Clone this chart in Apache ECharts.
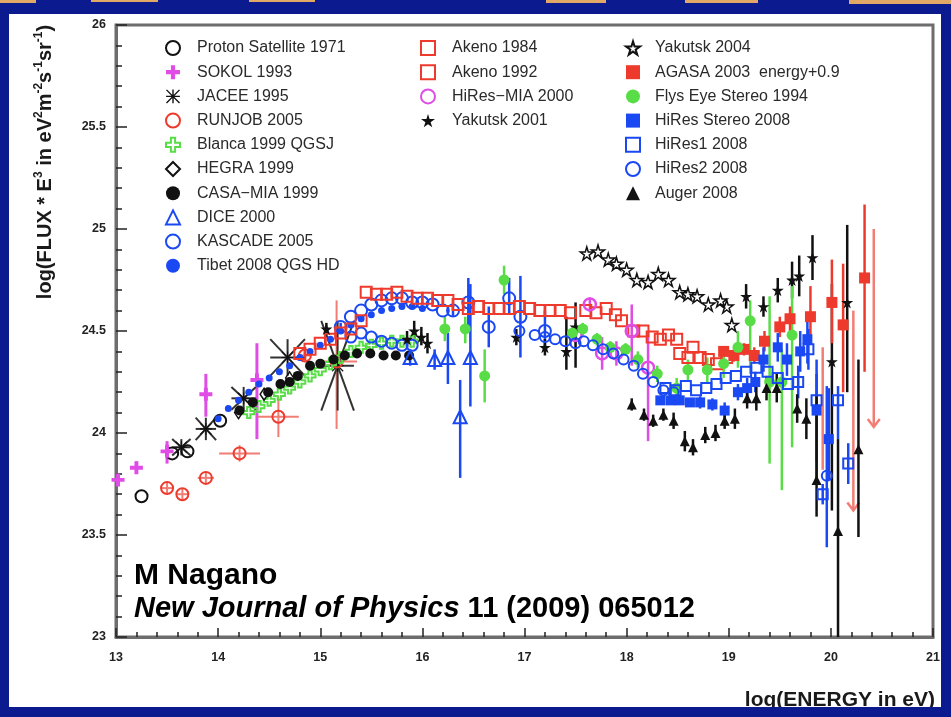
<!DOCTYPE html>
<html><head><meta charset="utf-8">
<script src="https://cdn.jsdelivr.net/npm/echarts@6/dist/echarts.min.js"></script>
<style>html,body{margin:0;padding:0;background:#fff;} #c{width:951px;height:717px;}</style>
</head><body><div id="c"></div>
<script>
// ---------- data: [logE, logFlux, errLow, errHigh, xErr] ----------
const protonSat = [[13.25,23.69],[13.55,23.90],[13.70,23.91],[14.02,24.06]];
const sokol = [[13.02,23.77,0.03,0.03],[13.20,23.83,0.03,0.03],[13.50,23.91,0.06,0.05],[13.88,24.19,0.11,0.10],[14.38,24.26,0.29,0.18]];
const jacee = [[13.64,23.93,0.04,0.04,0.09],[13.88,24.02,0.055,0.055,0.10],[14.25,24.17,0.056,0.056,0.12],[14.68,24.37,0.09,0.09,0.17],[15.17,24.33,0.22,0.22,0.16]];
const runjob = [[13.50,23.73,0.03,0.03,0.06],[13.65,23.70,0.03,0.03,0.06],[13.88,23.78,0.03,0.03,0.08],[14.21,23.90,0.04,0.04,0.2],[14.59,24.08,0.1,0.1,0.2],[14.85,24.38,0.03,0.03,0.05],[15.16,24.35,0.33,0.3,0.2]];
const blanca = [[14.3,24.10],[14.4,24.13],[14.5,24.16],[14.6,24.19],[14.7,24.22],[14.8,24.25],[14.9,24.28],[15.0,24.31],[15.1,24.34],[15.2,24.37],[15.3,24.40],[15.4,24.42],[15.5,24.43],[15.6,24.44],[15.7,24.45],[15.8,24.45],[15.9,24.45]];
const hegra = [[14.2,24.10],[14.45,24.19],[14.7,24.27]];
const casaMia = [[14.21,24.11],[14.34,24.15],[14.49,24.20],[14.61,24.24],[14.70,24.25],[14.78,24.28],[14.90,24.33],[15.00,24.34],[15.13,24.36],[15.24,24.38],[15.36,24.39],[15.49,24.39],[15.62,24.38],[15.74,24.38],[15.87,24.38]];
const dice = [[15.88,24.37,0.04,0.04],[16.12,24.36,0.05,0.05],[16.25,24.37,0.13,0.12],[16.37,24.08,0.3,0.18],[16.47,24.37,0.24,0.36]];
const kascade = [[15.2,24.52,0.02,0.02],[15.3,24.57],[15.4,24.60],[15.5,24.63],[15.6,24.65],[15.7,24.66],[15.8,24.66],[15.9,24.64],[16.0,24.64],[16.1,24.63],[16.2,24.60],[16.3,24.60,0.03,0.03],[16.45,24.64,0.12,0.12],[16.65,24.52,0.1,0.1],[16.85,24.66,0.08,0.1],[16.96,24.57,0.2,0.2],[17.2,24.50,0.1,0.1]];
const kascadeLow = [[15.3,24.47],[15.4,24.49],[15.5,24.47],[15.6,24.45],[15.7,24.44],[15.8,24.43],[15.9,24.43]];
const tibet = [[14.0,24.07],[14.1,24.12],[14.2,24.16],[14.3,24.20],[14.4,24.24],[14.5,24.27],[14.6,24.30],[14.7,24.33],[14.8,24.37],[14.9,24.40],[15.0,24.43],[15.1,24.46],[15.2,24.50],[15.3,24.53],[15.4,24.56],[15.5,24.58],[15.6,24.60],[15.7,24.61],[15.8,24.62],[15.9,24.62],[16.0,24.61]];
const akeno84 = [[14.8,24.39],[14.9,24.41],[15.0,24.44],[15.1,24.46],[15.2,24.49],[15.3,24.51],[15.4,24.55],[15.45,24.69],[15.55,24.68],[15.65,24.68],[15.75,24.69],[15.85,24.67],[15.95,24.66],[16.05,24.66],[16.15,24.65],[16.25,24.65],[16.35,24.63],[16.45,24.61],[16.55,24.62],[16.65,24.61],[16.75,24.61],[16.85,24.61],[16.95,24.62],[17.05,24.61],[17.15,24.60],[17.25,24.60],[17.35,24.60],[17.45,24.59]];
const akeno92 = [[17.6,24.60],[17.7,24.59],[17.8,24.61],[17.89,24.58],[17.95,24.55],[18.07,24.50],[18.16,24.50],[18.25,24.47],[18.33,24.46],[18.41,24.48],[18.49,24.46],[18.52,24.39],[18.60,24.37],[18.65,24.42],[18.72,24.37],[18.80,24.36],[18.88,24.34],[18.98,24.37]];
const hiresMia = [[17.50,24.48,0.04,0.04],[17.64,24.63,0.035,0.035],[17.76,24.39,0.08,0.08],[17.90,24.39,0.06,0.06],[18.05,24.50,0.17,0.13],[18.21,24.32,0.36,0.18]];
const yakutsk01 = [[15.06,24.51,0.03,0.03],[15.85,24.46,0.04,0.04],[15.92,24.50,0.05,0.05],[15.99,24.47,0.04,0.05],[16.05,24.44,0.05,0.05],[16.92,24.47,0.04,0.04],[17.20,24.42,0.04,0.04],[17.41,24.40,0.09,0.17],[17.50,24.52,0.2,0.12],[19.17,24.67,0.06,0.06],[19.34,24.62,0.05,0.05],[19.48,24.70,0.06,0.06],[19.62,24.75,0.09,0.09],[19.69,24.77,0.1,0.1],[19.82,24.86,0.11,0.11],[20.01,24.35,0.73,0.38],[20.16,24.64,0.44,0.38]];
const yakutsk04 = [[17.61,24.88],[17.72,24.89],[17.82,24.85],[17.90,24.83],[18.00,24.80],[18.10,24.75],[18.21,24.74],[18.31,24.78],[18.41,24.75],[18.52,24.69],[18.60,24.68],[18.69,24.67],[18.80,24.63],[18.92,24.65],[18.98,24.62],[19.03,24.53]];
const agasa = [[18.95,24.40,0.02,0.02],[19.05,24.38,0.03,0.03],[19.15,24.41,0.03,0.03],[19.25,24.38,0.04,0.04],[19.35,24.45,0.05,0.05],[19.50,24.52,0.05,0.05],[19.60,24.56,0.06,0.06],[19.80,24.57,0.1,0.15],[20.01,24.64,0.2,0.21],[20.12,24.53,0.33,0.3],[20.33,24.76,0.46,0.36]];
const agasaLimits = [[20.22,24.60,23.62,1],[20.42,25.00,24.03,1],[19.92,24.42,23.82,0]]; // [logE, top, bottom, arrow]
const flysEye = [[16.22,24.51,0.06,0.06],[16.42,24.51,0.07,0.06],[16.61,24.28,0.13,0.13],[16.80,24.75,0.07,0.07],[17.47,24.49,0.03,0.03],[17.57,24.51,0.03,0.03],[17.71,24.46,0.03,0.03],[17.84,24.42,0.03,0.03],[17.99,24.41,0.03,0.03],[18.11,24.36,0.04,0.04],[18.30,24.29,0.04,0.04],[18.49,24.22,0.05,0.05],[18.60,24.31,0.05,0.05],[18.79,24.31,0.06,0.06],[18.95,24.34,0.07,0.07],[19.09,24.42,0.1,0.08],[19.21,24.55,0.26,0.1],[19.40,24.25,0.4,0.42],[19.52,24.25,0.53,0.16],[19.62,24.48,0.55,0.24]];
const hiresStereo = [[18.33,24.16,0.02,0.02],[18.43,24.16,0.02,0.02],[18.52,24.16,0.02,0.02],[18.62,24.15,0.02,0.02],[18.72,24.15,0.03,0.03],[18.84,24.14,0.03,0.03],[18.96,24.11,0.04,0.04],[19.09,24.20,0.04,0.04],[19.18,24.22,0.05,0.05],[19.26,24.25,0.05,0.05],[19.34,24.36,0.06,0.06],[19.48,24.42,0.07,0.07],[19.57,24.36,0.08,0.08],[19.70,24.40,0.1,0.1],[19.77,24.46,0.12,0.12],[19.86,24.11,0.33,0.18],[19.98,23.97,0.2,0.25]];
const hires1 = [[18.38,24.22],[18.48,24.21],[18.58,24.23],[18.68,24.21],[18.78,24.22],[18.88,24.24],[18.97,24.27],[19.07,24.28],[19.17,24.30],[19.27,24.32],[19.38,24.30],[19.48,24.27],[19.58,24.24],[19.68,24.25,0.08,0.08],[19.78,24.41,0.1,0.1],[19.86,24.16,0.3,0.2],[19.92,23.70,0.05,0.05],[20.07,24.16,0.19,0.07],[20.17,23.85,0.1,0.1]];
const hires2 = [[16.95,24.50],[17.10,24.48],[17.20,24.47],[17.30,24.46],[17.40,24.45],[17.50,24.44],[17.58,24.45],[17.67,24.43],[17.77,24.41],[17.87,24.39],[17.97,24.36],[18.07,24.33],[18.16,24.29],[18.26,24.25],[18.36,24.21],[18.46,24.20],[19.96,23.79,0.35,0.44]];
const auger = [[18.05,24.14,0.03,0.03],[18.17,24.09,0.03,0.03],[18.26,24.06,0.03,0.03],[18.36,24.09,0.03,0.03],[18.46,24.06,0.04,0.04],[18.57,23.96,0.05,0.05],[18.65,23.93,0.04,0.04],[18.77,23.99,0.04,0.04],[18.87,24.00,0.04,0.04],[18.96,24.06,0.04,0.04],[19.06,24.07,0.05,0.05],[19.18,24.17,0.05,0.05],[19.27,24.17,0.06,0.06],[19.37,24.22,0.06,0.06],[19.47,24.22,0.07,0.07],[19.67,24.12,0.07,0.07],[19.76,24.07,0.1,0.1],[19.86,23.77,0.18,0.41],[20.07,23.52,0.52,0.45],[20.27,23.92,0.43,0.44]];

const legendCol1 = ['Proton Satellite 1971','SOKOL 1993','JACEE 1995','RUNJOB 2005','Blanca 1999 QGSJ','HEGRA 1999','CASA\u2212MIA 1999','DICE 2000','KASCADE 2005','Tibet 2008 QGS HD'];
const legendCol2 = ['Akeno 1984','Akeno 1992','HiRes\u2212MIA 2000','Yakutsk 2001'];
const legendCol3 = ['Yakutsk 2004','AGASA 2003  energy+0.9','Flys Eye Stereo 1994','HiRes Stereo 2008','HiRes1 2008','HiRes2 2008','Auger 2008'];
const xTicks = {min:13, max:21, step:1};
const yTicks = {min:23, max:26, step:0.5};

// ---------- styles ----------
const C = {black:'#111', magenta:'#e04de6', red:'#ee3a2c', redLight:'#f27d74', green:'#58dd46', blue:'#1a48f2'};
const plusPath = 'path://M35,0 L65,0 L65,35 L100,35 L100,65 L65,65 L65,100 L35,100 L35,65 L0,65 L0,35 L35,35 Z';
const starPath = 'path://M50,0 L61,35 L98,35 L68,57 L79,91 L50,70 L21,91 L32,57 L2,35 L39,35 Z';
const asterPath = 'path://M0,45 L100,45 L100,55 L0,55 Z M45,0 L55,0 L55,100 L45,100 Z M6.5,-0.5 L100.5,93.5 L93.5,100.5 L-0.5,6.5 Z M93.5,-0.5 L100.5,6.5 L6.5,100.5 L-0.5,93.5 Z';

function filled(name, data, symbol, size, color){
  return {type:'scatter', name, data:data.map(d=>[d[0],d[1]]), symbol, symbolSize:size, z:4, silent:true,
    itemStyle:{color, opacity:1}, emphasis:{disabled:true}};
}
function open(name, data, symbol, size, color, bw){
  return {type:'scatter', name, data:data.map(d=>[d[0],d[1]]), symbol, symbolSize:size, z:4, silent:true,
    itemStyle:{color:'rgba(255,255,255,0)', borderColor:color, borderWidth:bw||2, opacity:1}, emphasis:{disabled:true}};
}
function errs(data, color, w){
  return {type:'custom', silent:true, z:3, clip:true, encode:{x:0,y:1},
    data:data.map(d=>[d[0],d[1],d[2]||0,d[3]||0,d[4]||0]),
    renderItem:(p, api)=>{
      const x=api.value(0), y=api.value(1), lo=api.value(2), hi=api.value(3), xe=api.value(4);
      const ch=[];
      if(lo>0||hi>0){const a=api.coord([x,y-lo]), b=api.coord([x,y+hi]);
        ch.push({type:'line', shape:{x1:a[0],y1:a[1],x2:b[0],y2:b[1]}, style:{stroke:color,lineWidth:w||2}});}
      if(xe>0){const a=api.coord([x-xe,y]), b=api.coord([x+xe,y]);
        ch.push({type:'line', shape:{x1:a[0],y1:a[1],x2:b[0],y2:b[1]}, style:{stroke:color,lineWidth:w||2}});}
      return {type:'group', children:ch};
    }};
}
function asterArms(data, color){
  return {type:'custom', silent:true, z:3, clip:true, encode:{x:0,y:1},
    data:data.map(d=>[d[0],d[1],d[2],d[4]]),
    renderItem:(p, api)=>{
      const x=api.value(0), y=api.value(1), dy=api.value(2), dx=api.value(3);
      const segs=[[[x-dx,y],[x+dx,y]],[[x,y-dy],[x,y+dy]],[[x-dx,y-dy],[x+dx,y+dy]],[[x-dx,y+dy],[x+dx,y-dy]]];
      return {type:'group', children:segs.map(s=>{const a=api.coord(s[0]), b=api.coord(s[1]);
        return {type:'line', shape:{x1:a[0],y1:a[1],x2:b[0],y2:b[1]}, style:{stroke:color,lineWidth:2}};})};
    }};
}
function limits(data, color){
  return {type:'custom', silent:true, z:3, clip:true, encode:{x:0,y:1},
    data:data,
    renderItem:(p, api)=>{
      const x=api.value(0), t=api.value(1), b=api.value(2), arrow=api.value(3);
      const a=api.coord([x,t]), c=api.coord([x,b]);
      const ch=[{type:'line', shape:{x1:a[0],y1:a[1],x2:c[0],y2:c[1]}, style:{stroke:color,lineWidth:2.5}}];
      if(arrow) ch.push({type:'polyline', shape:{points:[[c[0]-6,c[1]-8],[c[0],c[1]],[c[0]+6,c[1]-8]]}, style:{stroke:color,lineWidth:2.5,fill:null}});
      return {type:'group', children:ch};
    }};
}

const series = [
  errs(sokol, C.magenta, 3),
  errs(runjob, C.redLight, 2),
  asterArms(jacee, '#333'),
  errs(dice, C.blue, 2.5),
  errs(kascade, C.blue, 2.5),
  errs(hiresMia, C.magenta, 2.5),
  errs(yakutsk01, C.black, 2.5),
  errs(flysEye, C.green, 2.5),
  errs(agasa, C.red, 2.5),
  limits(agasaLimits, C.redLight),
  errs(hiresStereo, C.blue, 2.5),
  errs(hires1, C.blue, 2.5),
  errs(hires2, C.blue, 2.5),
  errs(auger, C.black, 2.5),

  open('Proton Satellite 1971', protonSat, 'circle', 12, C.black, 2),
  filled('SOKOL 1993', sokol, plusPath, 13, C.magenta),
  filled('JACEE 1995', jacee, asterPath, 12, C.black),
  open('RUNJOB 2005', runjob, 'circle', 12, C.red, 2),
  open('Blanca 1999 QGSJ', blanca, plusPath, 11, C.green, 2),
  open('HEGRA 1999', hegra, 'diamond', [8,12], C.black, 1.5),
  filled('CASA\u2212MIA 1999', casaMia, 'circle', 10, C.black),
  open('DICE 2000', dice, 'triangle', 13, C.blue, 2),
  open('KASCADE 2005', kascadeLow, 'circle', 11, C.blue, 2),
  open('KASCADE 2005', kascade, 'circle', 12, C.blue, 2),
  filled('Tibet 2008 QGS HD', tibet, 'circle', 7, C.blue),
  open('Akeno 1984', akeno84, 'rect', 11, C.red, 2),
  open('Akeno 1992', akeno92, 'rect', 11, C.red, 2),
  open('HiRes\u2212MIA 2000', hiresMia, 'circle', 12, C.magenta, 2.5),
  filled('Yakutsk 2001', yakutsk01, starPath, 12, C.black),
  open('Yakutsk 2004', yakutsk04, starPath, 13, C.black, 1.5),
  filled('AGASA 2003  energy+0.9', agasa, 'rect', 11, C.red),
  filled('Flys Eye Stereo 1994', flysEye, 'circle', 11, C.green),
  filled('HiRes Stereo 2008', hiresStereo, 'rect', 10, C.blue),
  open('HiRes1 2008', hires1, 'rect', 10, C.blue, 2),
  open('HiRes2 2008', hires2, 'circle', 10, C.blue, 2),
  filled('Auger 2008', auger, 'triangle', 10, C.black)
];

const legTxt = {fontSize:16, color:'#2a2a2a', fontFamily:'Liberation Sans, Arial, sans-serif', lineHeight:16};
function leg(left, top, data, pad){
  return {left, top, orient:'vertical', data, itemWidth:14, itemHeight:14, itemGap:8.2, selectedMode:false,
    textStyle:Object.assign({padding:[0,0,0,pad]}, legTxt), inactiveColor:'#ccc'};
}

const navy = '#0b1a8e', orange = '#e2a866';
const borders = [
  {type:'rect', shape:{x:0,y:0,width:951,height:14}, style:{fill:navy}},
  {type:'rect', shape:{x:0,y:0,width:9,height:717}, style:{fill:navy}},
  {type:'rect', shape:{x:941,y:0,width:10,height:717}, style:{fill:navy}},
  {type:'rect', shape:{x:0,y:707,width:951,height:10}, style:{fill:navy}},
  {type:'rect', shape:{x:0,y:0,width:36,height:3}, style:{fill:orange}},
  {type:'rect', shape:{x:91,y:0,width:67,height:2}, style:{fill:orange}},
  {type:'rect', shape:{x:249,y:0,width:66,height:2}, style:{fill:orange}},
  {type:'rect', shape:{x:546,y:0,width:60,height:3}, style:{fill:orange}},
  {type:'rect', shape:{x:685,y:0,width:73,height:3}, style:{fill:orange}},
  {type:'rect', shape:{x:849,y:0,width:102,height:4}, style:{fill:orange}}
].map(e=>Object.assign(e,{z:200, silent:true}));

const texts = [
  {type:'text', x:45, y:162, rotation:Math.PI/2, z:50, silent:true,
    style:{text:'{b|log(FLUX * E}{s|3}{b| in eV}{s|2}{b|m}{s|-2}{b|s}{s|-1}{b|sr}{s|-1}{b|)}',
      align:'center', verticalAlign:'middle',
      rich:{b:{fontSize:20, fontWeight:'bold', fontFamily:'Liberation Sans, Arial, sans-serif', fill:'#1a1a1a', lineHeight:24},
            s:{fontSize:12, fontWeight:'bold', fontFamily:'Liberation Sans, Arial, sans-serif', fill:'#1a1a1a', lineHeight:24, verticalAlign:'top', padding:[0,0,10,0]}}}},
  {type:'text', x:935, y:700, z:50, silent:true,
    style:{text:'log(ENERGY in eV)', align:'right', verticalAlign:'middle', fontSize:21, fontWeight:'bold', fontFamily:'Liberation Sans, Arial, sans-serif', fill:'#1a1a1a'}},
  {type:'text', x:134, y:576, z:50, silent:true,
    style:{text:'M Nagano', align:'left', verticalAlign:'middle', fontSize:30, fontWeight:'bold', fontFamily:'Liberation Sans, Arial, sans-serif', fill:'#000'}},
  {type:'text', x:134, y:609, z:50, silent:true,
    style:{text:'{i|New Journal of Physics}{n| 11 (2009) 065012}', align:'left', verticalAlign:'middle',
      rich:{i:{fontSize:29, fontWeight:'bold', fontStyle:'italic', fontFamily:'Liberation Sans, Arial, sans-serif', fill:'#000'},
            n:{fontSize:29, fontWeight:'bold', fontFamily:'Liberation Sans, Arial, sans-serif', fill:'#000'}}}}
];

const axisLbl = {fontSize:12.5, fontWeight:'bold', color:'#222', fontFamily:'Liberation Sans Narrow, Liberation Sans, Arial, sans-serif'};
const option = {
  animation:false,
  backgroundColor:'#fff',
  grid:{left:116, right:18, top:25, bottom:80, show:true, borderColor:'#6d6d6d', borderWidth:3, backgroundColor:'#fff'},
  xAxis:{type:'value', min:xTicks.min, max:xTicks.max, interval:xTicks.step,
    axisLine:{show:true, onZero:false, lineStyle:{color:'#6d6d6d', width:3}},
    axisTick:{show:true, inside:true, length:9, lineStyle:{color:'#222', width:1.5}},
    minorTick:{show:true, splitNumber:5, length:5, lineStyle:{color:'#222', width:1.5}},
    splitLine:{show:false}, axisLabel:Object.assign({margin:14}, axisLbl)},
  yAxis:{type:'value', min:yTicks.min, max:yTicks.max, interval:yTicks.step,
    axisLine:{show:true, onZero:false, lineStyle:{color:'#6d6d6d', width:3}},
    axisTick:{show:true, inside:true, length:11, lineStyle:{color:'#222', width:1.5}},
    minorTick:{show:true, splitNumber:5, length:6, lineStyle:{color:'#222', width:1.5}},
    splitLine:{show:false}, axisLabel:Object.assign({margin:10}, axisLbl)},
  legend:[leg(160,35,legendCol1,12), leg(415,35,legendCol2,12), leg(620,35,legendCol3,10)],
  graphic:{elements:texts.concat(borders)},
  series
};
const chart = echarts.init(document.getElementById('c'));
chart.setOption(option);
</script></body></html>
